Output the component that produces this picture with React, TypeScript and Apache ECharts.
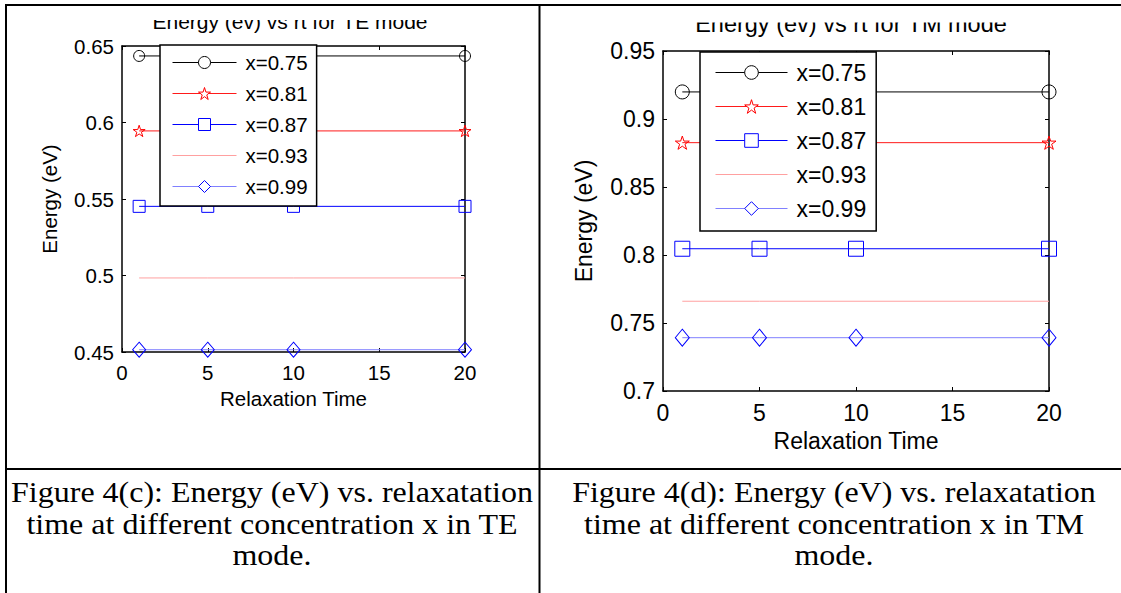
import React, { useEffect, useRef } from 'react';
import * as echarts from 'echarts';

// ---------------- data ----------------
const relaxationTimes = [1, 5, 10, 20];
const concentrationLabels = ['x=0.75', 'x=0.81', 'x=0.87', 'x=0.93', 'x=0.99'];

// TE mode energies (eV)
const teX075 = [0.6435, 0.6435, 0.6435, 0.6435];
const teX081 = [0.5945, 0.5945, 0.5945, 0.5945];
const teX087 = [0.5452, 0.5452, 0.5452, 0.5452];
const teX093 = [0.4984, 0.4984, 0.4984, 0.4984];
const teX099 = [0.4515, 0.4515, 0.4515, 0.4515];

// TM mode energies (eV)
const tmX075 = [0.9199, 0.9199, 0.9199, 0.9199];
const tmX081 = [0.8826, 0.8826, 0.8826, 0.8826];
const tmX087 = [0.8046, 0.8046, 0.8046, 0.8046];
const tmX093 = [0.766, 0.766, 0.766, 0.766];
const tmX099 = [0.7392, 0.7392, 0.7392, 0.7392];

// axis ticks
const xTicks = { min: 0, max: 20, interval: 5 };
const teYTicks = { min: 0.45, max: 0.65, interval: 0.05 };
const tmYTicks = { min: 0.7, max: 0.95, interval: 0.05 };

// texts
const teTitle = 'Energy (ev) vs rt for TE mode';
const tmTitle = 'Energy (ev) vs rt for TM mode';
const xName = 'Relaxation Time';
const yName = 'Energy (eV)';
const teCaption = [
  'Figure 4(c): Energy (eV) vs. relaxatation',
  'time at different concentration x in TE',
  'mode.',
];
const tmCaption = [
  'Figure 4(d): Energy (eV) vs. relaxatation',
  'time at different concentration x in TM',
  'mode.',
];

// ---------------- styles ----------------
const SANS = '"Liberation Sans", Arial, Helvetica, sans-serif';
const SERIF = '"Liberation Serif", "Times New Roman", serif';
const STAR =
  'path://M50 0 L61.17 34.63 L97.55 34.55 L68.07 55.87 L79.39 90.45 L50 69 L20.61 90.45 L31.93 55.87 L2.45 34.55 L38.83 34.63 Z';
const CLEAR = 'rgba(255,255,255,0)';

const seriesStyles = [
  { symbol: 'circle', color: '#000000', line: '#000000' },
  { symbol: STAR, color: '#ff0000', line: '#ff1a1a' },
  { symbol: 'rect', color: '#0000ff', line: '#0000ff' },
  { symbol: 'none', color: '#ffa0a0', line: '#ffa0a0' },
  { symbol: 'diamond', color: '#0000ff', line: '#8080ff' },
];

function symItemStyle(i: number, fill: string) {
  const st = seriesStyles[i];
  return st.symbol !== 'none'
    ? { color: fill, borderColor: st.color, borderWidth: 1 }
    : { color: CLEAR, borderColor: CLEAR, borderWidth: 0 };
}

function buildSeries(values: number[][], axisIndex: number, sizes: any[]) {
  return values.map((vals, i) => {
    const st = seriesStyles[i];
    const hasSym = st.symbol !== 'none';
    return {
      type: 'line',
      name: concentrationLabels[i],
      xAxisIndex: axisIndex,
      yAxisIndex: axisIndex,
      data: relaxationTimes.map((t, j) => [t, vals[j]]),
      symbol: hasSym ? st.symbol : 'circle',
      showSymbol: hasSym,
      symbolSize: sizes[i],
      symbolKeepAspect: true,
      itemStyle: symItemStyle(i, CLEAR),
      lineStyle: { color: st.line, width: 1 },
      emphasis: { disabled: true },
      silent: true,
      z: 2,
    };
  });
}

function buildAxes(grid: number, yr: any, fs: number, xGap: number, yGap: number) {
  const lbl = { color: '#000', fontFamily: SANS, fontSize: fs };
  const line = { show: true, onZero: false, lineStyle: { color: '#000', width: 1.5 } };
  const tick = { show: true, inside: true, length: 4, lineStyle: { color: '#000', width: 1 } };
  const xAxes = [
    {
      gridIndex: grid, type: 'value', position: 'bottom', ...xTicks,
      axisLine: line, axisTick: tick, axisLabel: { ...lbl, margin: 10 },
      splitLine: { show: false },
      name: xName, nameLocation: 'middle', nameGap: xGap, nameTextStyle: lbl,
    },
    {
      gridIndex: grid, type: 'value', position: 'top', ...xTicks,
      axisLine: line, axisTick: tick, axisLabel: { show: false }, splitLine: { show: false },
    },
  ];
  const yAxes = [
    {
      gridIndex: grid, type: 'value', position: 'left', ...yr,
      axisLine: line, axisTick: tick, axisLabel: { ...lbl, margin: 8 },
      splitLine: { show: false },
      name: yName, nameLocation: 'middle', nameGap: yGap, nameRotate: 90, nameTextStyle: lbl,
    },
    {
      gridIndex: grid, type: 'value', position: 'right', ...yr,
      axisLine: line, axisTick: tick, axisLabel: { show: false }, splitLine: { show: false },
    },
  ];
  return { xAxes, yAxes };
}

function buildLegend(left: number, top: number, fs: number, itemWidth: number, itemHeight: number, itemGap: number, padding: number[]) {
  return {
    data: concentrationLabels.map((name, i) => ({
      name,
      itemStyle: symItemStyle(i, '#ffffff'),
      lineStyle: { color: seriesStyles[i].line, width: 1 },
    })),
    orient: 'vertical',
    left, top, padding,
    itemWidth, itemHeight, itemGap,
    selectedMode: false,
    itemStyle: { color: '#ffffff', borderWidth: 1 },
    backgroundColor: '#fff',
    borderColor: '#000',
    borderWidth: 1.5,
    borderRadius: 0,
    textStyle: { color: '#000', fontFamily: SANS, fontSize: fs, lineHeight: fs, padding: [0, 0, 0, 4] },
  };
}

const CAP_FS = 28.4;
const CAP_SCALE = 1.127;

function captionTexts(lines: string[], cx: number) {
  const ys = [493, 524.5, 556];
  return lines.map((t, i) => ({
    type: 'text',
    x: cx,
    y: ys[i],
    scaleX: CAP_SCALE,
    z: 50,
    style: {
      text: t,
      fontFamily: SERIF,
      fontSize: CAP_FS,
      fill: '#000',
      align: 'center',
      verticalAlign: 'middle',
    },
  }));
}

function buildOption() {
  const te = buildAxes(0, teYTicks, 20.5, 35, 62);
  const tm = buildAxes(1, tmYTicks, 23, 38, 68);
  const border = { stroke: '#000', lineWidth: 2 };
  return {
    animation: false,
    backgroundColor: '#fff',
    grid: [
      { left: 122, top: 46, width: 343, height: 306, containLabel: false },
      { left: 663, top: 51, width: 386, height: 340, containLabel: false },
    ],
    xAxis: [...te.xAxes, ...tm.xAxes],
    yAxis: [...te.yAxes, ...tm.yAxes],
    legend: [
      buildLegend(160, 45, 20.5, 64, 15, 10, [7, 9, 9, 12]),
      buildLegend(700, 52, 23, 72, 17, 11, [9, 10, 11, 15]),
    ],
    series: [
      ...buildSeries([teX075, teX081, teX087, teX093, teX099], 0, [11, 12, 12, 0, [13, 15]]),
      ...buildSeries([tmX075, tmX081, tmX087, tmX093, tmX099], 2, [14, 14, 15, 0, [14, 17]]),
    ],
    graphic: [
      { type: 'text', x: 290, y: 21.7, z: 50, style: { text: teTitle, fontFamily: SANS, fontSize: 21, fill: '#000', align: 'center', verticalAlign: 'middle' } },
      { type: 'text', x: 851, y: 23.8, z: 50, style: { text: tmTitle, fontFamily: SANS, fontSize: 23.5, fill: '#000', align: 'center', verticalAlign: 'middle' } },
      { type: 'rect', z: 100, shape: { x: 100, y: 6, width: 400, height: 14 }, style: { fill: '#fff' } },
      { type: 'rect', z: 100, shape: { x: 650, y: 6, width: 420, height: 16.5 }, style: { fill: '#fff' } },
      { type: 'line', z: 200, shape: { x1: 5, y1: 5, x2: 1121, y2: 5 }, style: border },
      { type: 'line', z: 200, shape: { x1: 6, y1: 4, x2: 6, y2: 593 }, style: border },
      { type: 'line', z: 200, shape: { x1: 539.5, y1: 4, x2: 539.5, y2: 593 }, style: border },
      { type: 'line', z: 200, shape: { x1: 5, y1: 469, x2: 1121, y2: 469 }, style: border },
      ...captionTexts(teCaption, 272),
      ...captionTexts(tmCaption, 834),
    ],
  };
}

export default function App() {
  const ref = useRef<HTMLDivElement>(null);
  useEffect(() => {
    if (!ref.current) return;
    const chart = echarts.init(ref.current, undefined, { renderer: 'svg', width: 1121, height: 593 });
    chart.setOption(buildOption() as any);
    return () => chart.dispose();
  }, []);
  return (
    <div
      ref={ref}
      style={{ position: 'absolute', left: 0, top: 0, width: 1121, height: 593, background: '#fff' }}
    />
  );
}
